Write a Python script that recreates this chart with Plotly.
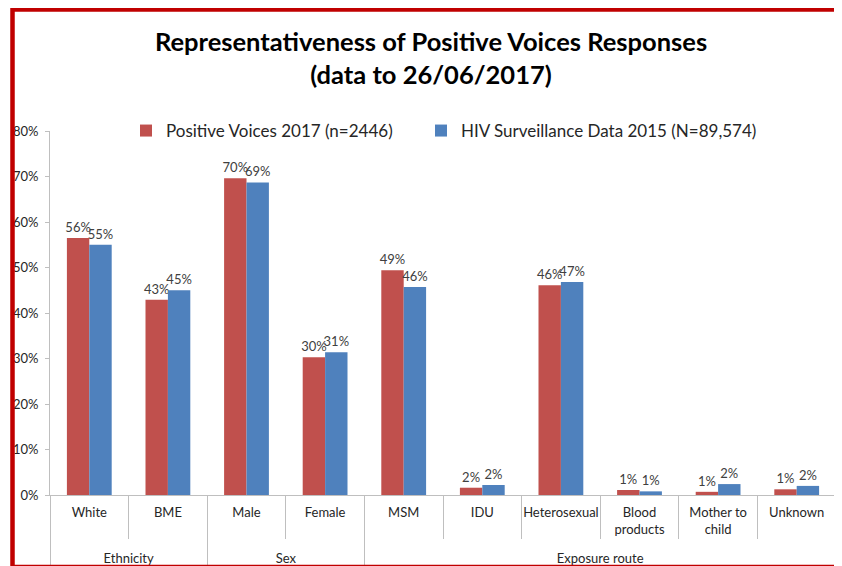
import plotly.graph_objects as go

groups = ["Ethnicity", "Ethnicity", "Sex", "Sex", "Exposure route", "Exposure route",
          "Exposure route", "Exposure route", "Exposure route", "Exposure route"]
categories = ["White", "BME", "Male", "Female", "MSM", "IDU", "Heterosexual",
              "Blood<br>products", "Mother to<br>child", "Unknown"]
positive_voices = [0.565, 0.429, 0.696, 0.303, 0.494, 0.016, 0.461, 0.011, 0.007, 0.0125]
surveillance = [0.550, 0.450, 0.687, 0.314, 0.457, 0.022, 0.468, 0.008, 0.024, 0.020]
y_ticks = [0, 0.1, 0.2, 0.3, 0.4, 0.5, 0.6, 0.7, 0.8]

series_names = ["Positive Voices 2017 (n=2446)", "HIV Surveillance Data 2015 (N=89,574)"]
colors = ["#C0504D", "#4F81BD"]

# the page body adds an 8px offset, so the figure is sized to the visible window
OFF = 8
W, H = 842 - OFF, 566 - OFF
L, R, T, B = 50 - OFF, 6, 131 - OFF, 566 - 495
pw, ph = W - L - R, H - T - B

def px(xs):
    return (xs - OFF - L) / pw

def py(ys):
    return (H - B - (ys - OFF)) / ph

# group labels sit one line lower, as in the original chart
group_labels = ["<br>" + g for g in groups]

fig = go.Figure()
for i, (name, vals, col) in enumerate(zip(series_names, [positive_voices, surveillance], colors)):
    fig.add_trace(go.Bar(
        x=[group_labels, categories], y=vals, name=name,
        marker=dict(color=col, line=dict(width=0)),
        texttemplate="%{y:.0%}", textposition="outside",
        textfont=dict(family="Lato", size=13, color="#404040"),
        constraintext="none", cliponaxis=False,
        legend="legend" if i == 0 else "legend2",
    ))

legend_common = dict(
    orientation="h", yanchor="middle", y=py(131), xanchor="left",
    font=dict(family="Lato", size=17, color="#262626"),
    bgcolor="rgba(0,0,0,0)", itemwidth=30,
)

fig.update_layout(
    width=W, height=H,
    margin=dict(l=L, r=R, t=T, b=B),
    paper_bgcolor="white", plot_bgcolor="white",
    barmode="group", bargap=0.43, bargroupgap=0,
    font=dict(family="Lato", color="#262626"),
    title=dict(
        text="<b>Representativeness of Positive Voices Responses<br>(data to 26/06/2017)</b>",
        xref="container", x=(431 - OFF) / W, xanchor="center",
        yref="container", y=1 - 43 / H, yanchor="middle",
        font=dict(family="Lato", size=25.5, color="black"),
    ),
    legend=dict(legend_common, x=px(126)),
    legend2=dict(legend_common, x=px(421)),
    showlegend=True,
)

fig.update_xaxes(
    type="multicategory", automargin=False, tickangle=0,
    showline=True, linecolor="#BFBFBF", linewidth=1,
    ticks="outside", ticklen=43, tickcolor="#BFBFBF",
    ticklabelstandoff=5,
    showdividers=True, dividercolor="#BFBFBF", dividerwidth=1,
    tickfont=dict(family="Lato", size=13, color="#262626"),
    showgrid=False,
)
fig.update_yaxes(
    range=[0, 0.8], tickvals=y_ticks, tickformat=".0%", automargin=False,
    showline=True, linecolor="#BFBFBF", linewidth=1,
    ticks="outside", ticklen=4, tickcolor="#BFBFBF",
    ticklabelstandoff=4,
    showgrid=False, zeroline=False,
    tickfont=dict(family="Lato", size=13, color="#262626"),
)

# red slide border (top, left, bottom)
fig.add_shape(type="rect", xref="paper", yref="paper",
              x0=px(12.5), x1=px(860), y0=py(567), y1=py(9.5),
              line=dict(color="#C00000", width=4.5), fillcolor="rgba(0,0,0,0)",
              layer="above")

fig.write_html("out.html")
